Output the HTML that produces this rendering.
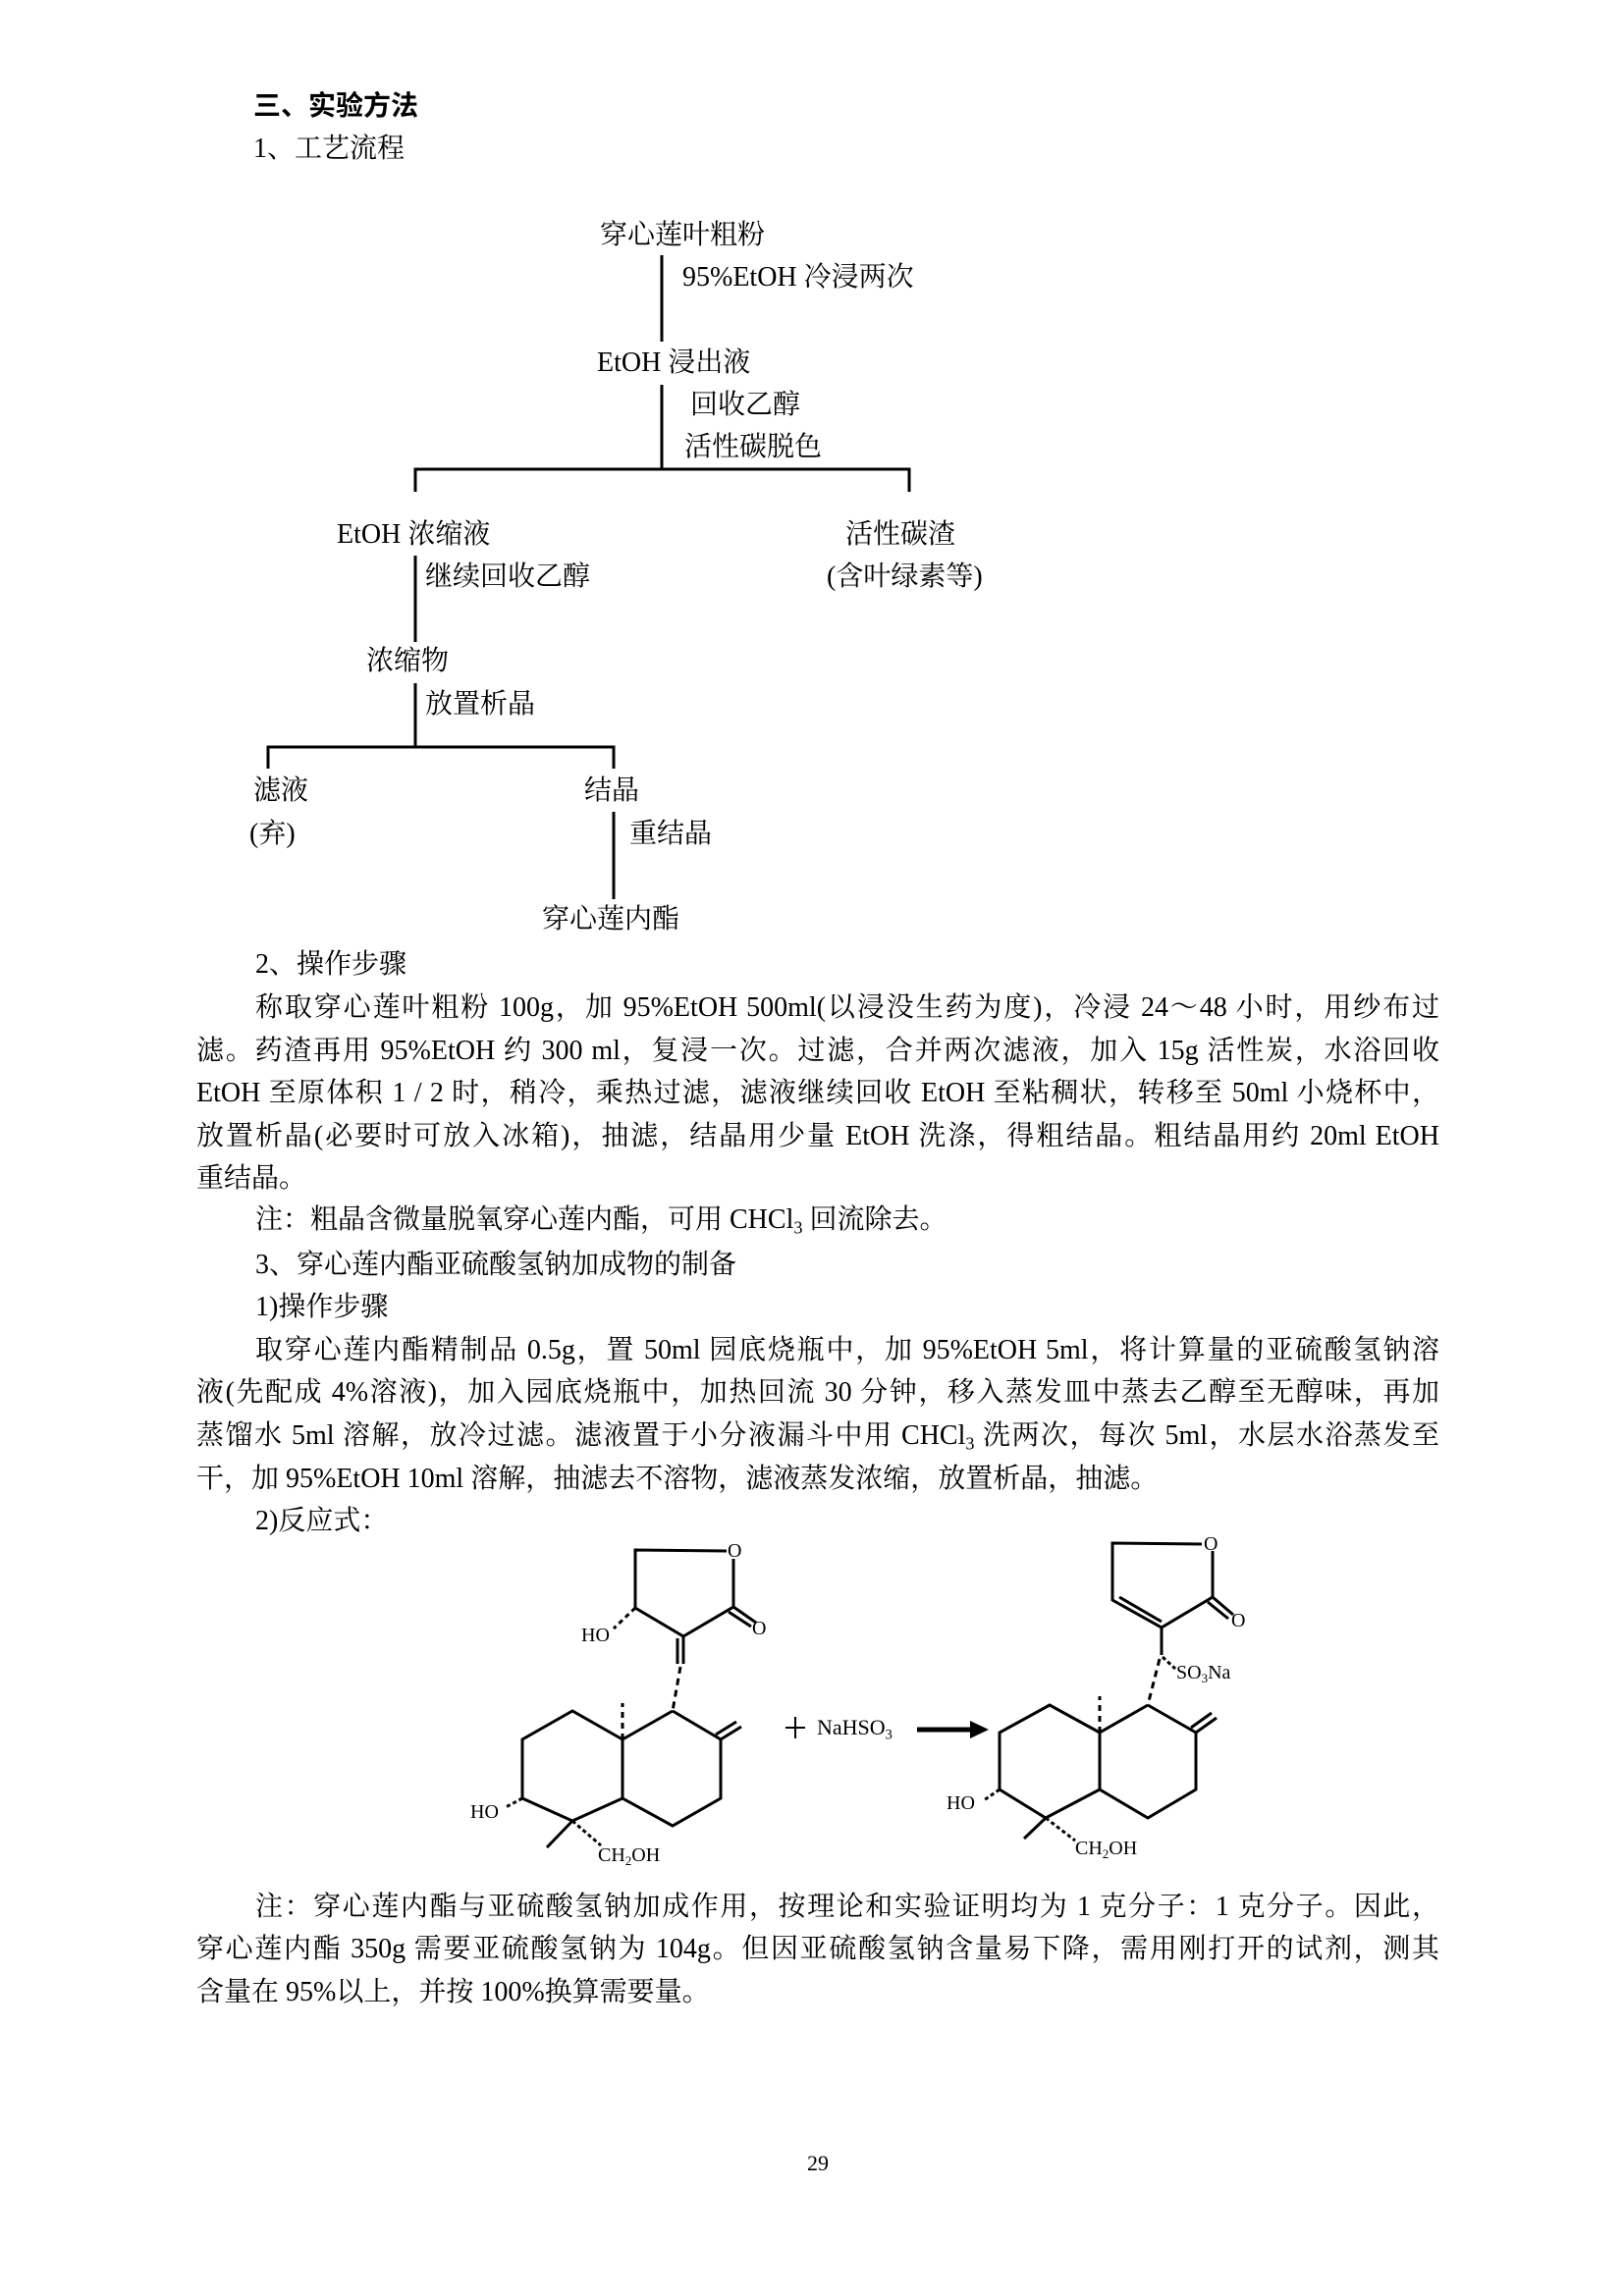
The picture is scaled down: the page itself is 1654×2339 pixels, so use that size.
<!DOCTYPE html>
<html><head><meta charset="utf-8">
<style>
html,body{margin:0;padding:0;background:#fff;}
body{width:1654px;height:2339px;position:relative;overflow:hidden;font-family:"Liberation Serif","Noto Serif CJK SC","Noto Sans CJK SC",serif;color:#000;}
.t{position:absolute;font-size:28px;line-height:28px;white-space:nowrap;}
.j{position:absolute;font-size:28px;line-height:28px;text-align:justify;text-align-last:justify;white-space:nowrap;}
.c{position:absolute;font-size:20px;line-height:20px;white-space:nowrap;font-family:"Liberation Serif",serif;}
sub{font-size:65%;line-height:0;vertical-align:-0.3em;}
svg{position:absolute;left:0;top:0;}
</style></head><body>
<svg width="1654" height="2339" viewBox="0 0 1654 2339">
<g stroke="#000" stroke-width="3" fill="none">
<line x1="674" y1="260" x2="674" y2="348"/>
<line x1="674" y1="392" x2="674" y2="478"/>
<polyline points="423,501 423,478 926,478 926,501"/>
<line x1="423" y1="566" x2="423" y2="654"/>
<line x1="423" y1="696" x2="423" y2="761"/>
<polyline points="273,783 273,761 625,761 625,783"/>
<line x1="625" y1="827" x2="625" y2="916"/>
</g>
<g stroke="#000" stroke-width="3" fill="none">
<!-- left lactone -->
<polyline points="740,1580 647,1579 647,1638 696,1667 747,1637 747,1588"/>
<line x1="747" y1="1637" x2="770" y2="1653"/>
<line x1="742" y1="1642" x2="765" y2="1657"/>
<line x1="647" y1="1638" x2="625" y2="1659" stroke-dasharray="5,4"/>
<line x1="696" y1="1667" x2="696" y2="1695"/>
<line x1="690" y1="1669" x2="690" y2="1695"/>
<line x1="693" y1="1698" x2="685" y2="1743" stroke-dasharray="7,5"/>
<!-- left decalin -->
<polyline points="685,1743 734,1772 734,1832 685,1860 634,1832 634,1772 685,1743"/>
<polyline points="634,1772 583,1743 532,1772 532,1832 583,1855 634,1832"/>
<line x1="734" y1="1772" x2="755" y2="1759"/>
<line x1="729" y1="1767" x2="750" y2="1754"/>
<line x1="634" y1="1772" x2="634" y2="1735" stroke-dasharray="6,5"/>
<line x1="532" y1="1832" x2="515" y2="1841" stroke-dasharray="4,3"/>
<line x1="583" y1="1855" x2="557" y2="1882"/>
<line x1="583" y1="1855" x2="612" y2="1880" stroke-dasharray="4,3"/>
<!-- arrow -->
<line x1="934" y1="1762" x2="990" y2="1762" stroke-width="5"/>
<!-- right lactone -->
<polyline points="1224,1573 1133,1572 1133,1630 1183,1658 1235,1627 1235,1580"/>
<line x1="1140" y1="1627" x2="1183" y2="1652"/>
<line x1="1235" y1="1627" x2="1256" y2="1645"/>
<line x1="1230" y1="1632" x2="1251" y2="1649"/>
<line x1="1183" y1="1658" x2="1183" y2="1686"/>
<line x1="1181" y1="1690" x2="1169" y2="1737" stroke-dasharray="7,5"/>
<line x1="1184" y1="1688" x2="1197" y2="1700" stroke-dasharray="4,3"/>
<!-- right decalin -->
<polyline points="1169,1737 1218,1765 1218,1823 1169,1852 1120,1823 1120,1765 1169,1737"/>
<polyline points="1120,1765 1069,1737 1018,1765 1018,1823 1065,1852 1120,1823"/>
<line x1="1218" y1="1765" x2="1239" y2="1750"/>
<line x1="1213" y1="1760" x2="1234" y2="1745"/>
<line x1="1120" y1="1765" x2="1120" y2="1728" stroke-dasharray="6,5"/>
<line x1="1018" y1="1823" x2="1002" y2="1834" stroke-dasharray="4,3"/>
<line x1="1065" y1="1852" x2="1043" y2="1873"/>
<line x1="1065" y1="1852" x2="1095" y2="1875" stroke-dasharray="4,3"/>
</g>
<polygon points="988,1753 1007,1762 988,1771" fill="#000"/>
<line x1="800" y1="1760" x2="820" y2="1760" stroke="#000" stroke-width="2"/>
<line x1="810" y1="1749" x2="810" y2="1771" stroke="#000" stroke-width="2"/>
</svg>

<div class="t" style="left:258px;top:94px;font-weight:bold;font-family:'Liberation Sans','Noto Sans CJK SC',sans-serif;">三、实验方法</div>
<div class="t" style="left:258px;top:138px;">1、工艺流程</div>

<div class="t" style="left:611px;top:226px;">穿心莲叶粗粉</div>
<div class="t" style="left:695px;top:269px;">95%EtOH 冷浸两次</div>
<div class="t" style="left:608px;top:356px;">EtOH 浸出液</div>
<div class="t" style="left:703px;top:399px;">回收乙醇</div>
<div class="t" style="left:697px;top:442px;">活性碳脱色</div>
<div class="t" style="left:343px;top:531px;">EtOH 浓缩液</div>
<div class="t" style="left:861px;top:531px;">活性碳渣</div>
<div class="t" style="left:842px;top:574px;">(含叶绿素等)</div>
<div class="t" style="left:433px;top:574px;">继续回收乙醇</div>
<div class="t" style="left:373px;top:660px;">浓缩物</div>
<div class="t" style="left:433px;top:704px;">放置析晶</div>
<div class="t" style="left:258px;top:792px;">滤液</div>
<div class="t" style="left:254px;top:836px;">(弃)</div>
<div class="t" style="left:595px;top:792px;">结晶</div>
<div class="t" style="left:641px;top:836px;">重结晶</div>
<div class="t" style="left:552px;top:923px;">穿心莲内酯</div>

<div class="t" style="left:260px;top:969px;">2、操作步骤</div>
<div class="j" style="left:260px;width:1206px;top:1013px;">称取穿心莲叶粗粉 100g，加 95%EtOH 500ml(以浸没生药为度)，冷浸 24～48 小时，用纱布过</div>
<div class="j" style="left:200px;width:1266px;top:1057px;">滤。药渣再用 95%EtOH 约 300 ml，复浸一次。过滤，合并两次滤液，加入 15g 活性炭，水浴回收</div>
<div class="j" style="left:200px;width:1266px;top:1100px;">EtOH 至原体积 1 / 2 时，稍冷，乘热过滤，滤液继续回收 EtOH 至粘稠状，转移至 50ml 小烧杯中，</div>
<div class="j" style="left:200px;width:1266px;top:1144px;">放置析晶(必要时可放入冰箱)，抽滤，结晶用少量 EtOH 洗涤，得粗结晶。粗结晶用约 20ml EtOH</div>
<div class="t" style="left:200px;top:1187px;">重结晶。</div>
<div class="t" style="left:260px;top:1229px;">注：粗晶含微量脱氧穿心莲内酯，可用 CHCl<sub>3</sub> 回流除去。</div>
<div class="t" style="left:260px;top:1275px;">3、穿心莲内酯亚硫酸氢钠加成物的制备</div>
<div class="t" style="left:260px;top:1318px;">1)操作步骤</div>
<div class="j" style="left:260px;width:1206px;top:1362px;">取穿心莲内酯精制品 0.5g，置 50ml 园底烧瓶中，加 95%EtOH 5ml，将计算量的亚硫酸氢钠溶</div>
<div class="j" style="left:200px;width:1266px;top:1405px;">液(先配成 4%溶液)，加入园底烧瓶中，加热回流 30 分钟，移入蒸发皿中蒸去乙醇至无醇味，再加</div>
<div class="j" style="left:200px;width:1266px;top:1449px;">蒸馏水 5ml 溶解，放冷过滤。滤液置于小分液漏斗中用 CHCl<sub>3</sub> 洗两次，每次 5ml，水层水浴蒸发至</div>
<div class="t" style="left:200px;top:1493px;">干，加 95%EtOH 10ml 溶解，抽滤去不溶物，滤液蒸发浓缩，放置析晶，抽滤。</div>
<div class="t" style="left:260px;top:1536px;">2)反应式：</div>

<div class="c" style="left:741px;top:1570px;">O</div>
<div class="c" style="left:766px;top:1649px;">O</div>
<div class="c" style="left:592px;top:1656px;">HO</div>
<div class="c" style="left:479px;top:1836px;">HO</div>
<div class="c" style="left:609px;top:1880px;">CH<sub>2</sub>OH</div>
<div class="c" style="left:832px;top:1750px;font-size:22px;">NaHSO<sub>3</sub></div>
<div class="c" style="left:1226px;top:1563px;">O</div>
<div class="c" style="left:1254px;top:1641px;">O</div>
<div class="c" style="left:1198px;top:1694px;">SO<sub>3</sub>Na</div>
<div class="c" style="left:964px;top:1827px;">HO</div>
<div class="c" style="left:1095px;top:1873px;">CH<sub>2</sub>OH</div>

<div class="j" style="left:260px;width:1206px;top:1929px;">注：穿心莲内酯与亚硫酸氢钠加成作用，按理论和实验证明均为 1 克分子：1 克分子。因此，</div>
<div class="j" style="left:200px;width:1266px;top:1972px;">穿心莲内酯 350g 需要亚硫酸氢钠为 104g。但因亚硫酸氢钠含量易下降，需用刚打开的试剂，测其</div>
<div class="t" style="left:200px;top:2016px;">含量在 95%以上，并按 100%换算需要量。</div>

<div class="t" style="left:822px;top:2193px;font-size:22px;line-height:22px;">29</div>
</body></html>
